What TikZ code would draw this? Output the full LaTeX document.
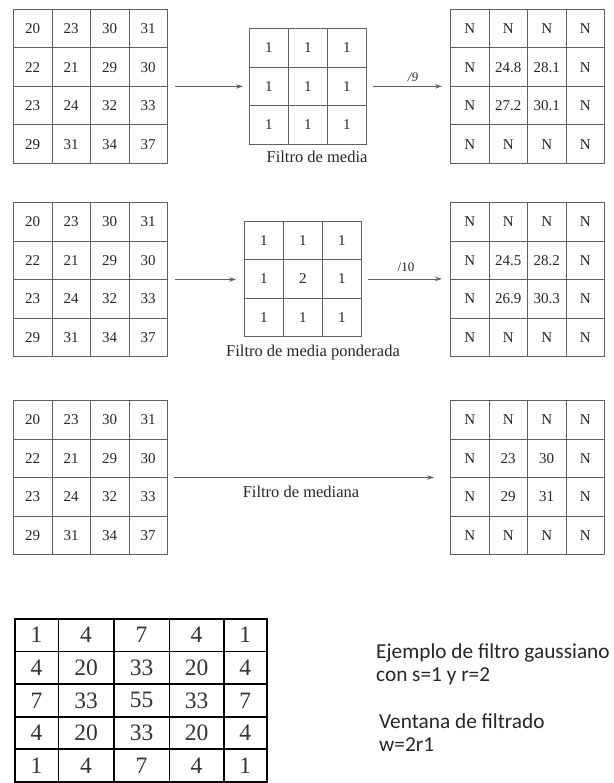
\documentclass[tikz,border=0pt]{standalone}
\usepackage{fontspec}
\setmainfont{Liberation Serif}
\newfontfamily\calib{Carlito}
\usetikzlibrary{matrix,arrows.meta}
\begin{document}
\begin{tikzpicture}[x=1pt,y=-1pt,
  cellgrid/.style={matrix of nodes, inner sep=0pt, outer sep=0pt,
     column sep=-0.9pt, row sep=-0.9pt,
     nodes={draw=black!62, line width=0.9pt, inner sep=0pt, outer sep=0pt,
       minimum width=38.5pt, minimum height=38.5pt, anchor=center,
       font=\fontsize{15}{15}\selectfont, text=black!85}},
  filtgrid/.style={cellgrid, nodes={minimum width=39pt, minimum height=38.6pt}},
  gausstab/.style={matrix of nodes, inner sep=0pt, outer sep=0pt,
     column sep=-1.7pt, row sep=-1.7pt,
     nodes={draw=black, line width=1.7pt, inner sep=0pt, outer sep=0pt,
       minimum height=32.6pt, anchor=center,
       font=\fontsize{23.5}{23.5}\selectfont, text=black!80},
     column 1/.style={nodes={minimum width=43.5pt}},
     column 2/.style={nodes={minimum width=55.5pt}},
     column 3/.style={nodes={minimum width=55.5pt}},
     column 4/.style={nodes={minimum width=54.5pt}},
     column 5/.style={nodes={minimum width=43pt}}},
  arr/.style={draw=black!62, line width=0.8pt, -{Stealth[length=7pt,width=4.5pt]}},
  lbl/.style={font=\fontsize{16.5}{16.5}\selectfont, text=black!85, inner sep=0pt},
  divlbl/.style={font=\fontsize{13}{13}\selectfont, text=black!85, inner sep=0pt},
  sidetxt/.style={font=\calib\fontsize{21.3}{21.3}\selectfont, text=black!85, inner sep=0pt, anchor=base west}]
\useasboundingbox (0,0) rectangle (613,783);

% ---------- row 1: mean filter ----------
\matrix (g1) [cellgrid, anchor=north west] at (13,9) {
20 & 23 & 30 & 31\\
22 & 21 & 29 & 30\\
23 & 24 & 32 & 33\\
29 & 31 & 34 & 37\\
};
\matrix (f1) [filtgrid, anchor=north west] at (249,28) {
1 & 1 & 1\\
1 & 1 & 1\\
1 & 1 & 1\\
};
\matrix (r1) [cellgrid, anchor=north west] at (450,9) {
N & N & N & N\\
N & 24.8 & 28.1 & N\\
N & 27.2 & 30.1 & N\\
N & N & N & N\\
};
\node[lbl, anchor=base] (l1) at (317,163) {Filtro de media};
\node[divlbl] (d1) at (413,77) {\textit{/9}};
\draw[arr, shorten <=7pt, shorten >=6pt] (g1.east) -- (g1.east -| f1.west);
\draw[arr, shorten <=6pt, shorten >=8pt] (f1.east) -- (f1.east -| r1.west);

% ---------- row 2: weighted mean filter ----------
\matrix (g2) [cellgrid, anchor=north west] at (13,202) {
20 & 23 & 30 & 31\\
22 & 21 & 29 & 30\\
23 & 24 & 32 & 33\\
29 & 31 & 34 & 37\\
};
\matrix (f2) [filtgrid, nodes={minimum height=38.3pt}, anchor=north west] at (244,221) {
1 & 1 & 1\\
1 & 2 & 1\\
1 & 1 & 1\\
};
\matrix (r2) [cellgrid, anchor=north west] at (450,202) {
N & N & N & N\\
N & 24.5 & 28.2 & N\\
N & 26.9 & 30.3 & N\\
N & N & N & N\\
};
\node[lbl, anchor=base] (l2) at (313,356) {Filtro de media ponderada};
\node[divlbl] (d2) at (406,267) {/10};
\draw[arr, shorten <=7pt, shorten >=8pt] (g2.east) -- (g2.east -| f2.west);
\draw[arr, shorten <=6pt, shorten >=8pt] (f2.east) -- (f2.east -| r2.west);

% ---------- row 3: median filter ----------
\matrix (g3) [cellgrid, anchor=north west] at (13,400) {
20 & 23 & 30 & 31\\
22 & 21 & 29 & 30\\
23 & 24 & 32 & 33\\
29 & 31 & 34 & 37\\
};
\matrix (r3) [cellgrid, anchor=north west] at (450,400) {
N & N & N & N\\
N & 23 & 30 & N\\
N & 29 & 31 & N\\
N & N & N & N\\
};
\node[lbl, anchor=base] (l3) at (301,497) {Filtro de mediana};
\draw[arr, shorten <=6pt, shorten >=16pt] (g3.east) -- (g3.east -| r3.west);

% ---------- gaussian kernel ----------
\matrix (gs) [gausstab, anchor=north west] at (14,618) {
1 & 4 & 7 & 4 & 1\\
4 & 20 & 33 & 20 & 4\\
7 & 33 & 55 & 33 & 7\\
4 & 20 & 33 & 20 & 4\\
1 & 4 & 7 & 4 & 1\\
};
\node[sidetxt] (t1) at (376,658) {Ejemplo de filtro gaussiano};
\node[sidetxt] (t2) at (376,681) {con s=1 y r=2};
\node[sidetxt] (t3) at (379,728) {Ventana de filtrado};
\node[sidetxt] (t4) at (379,751) {w=2r1};
\end{tikzpicture}
\end{document}
